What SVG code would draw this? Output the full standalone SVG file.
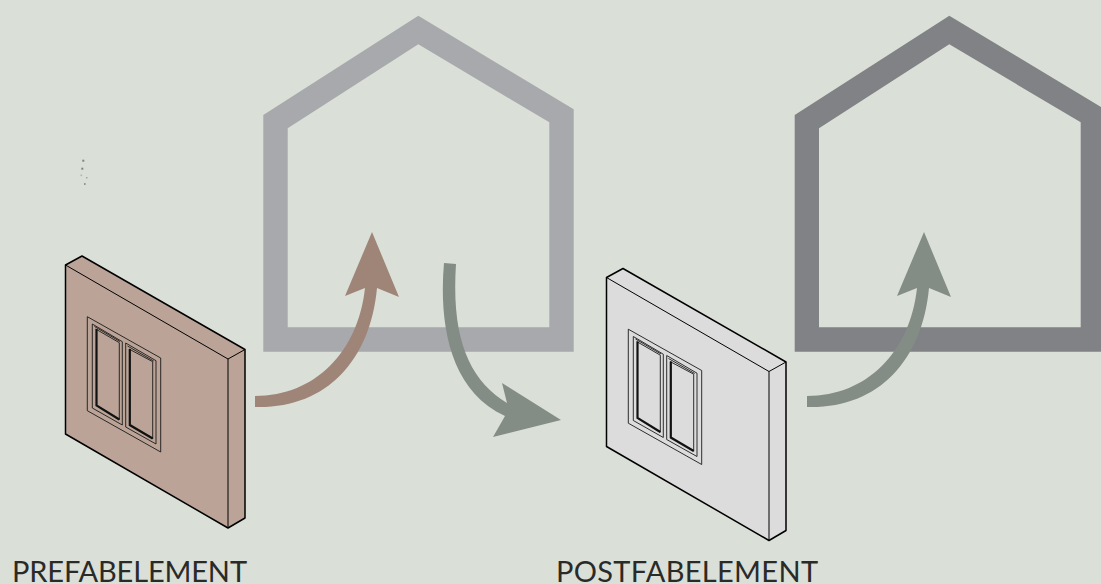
<svg xmlns="http://www.w3.org/2000/svg" width="1101" height="584" viewBox="0 0 1101 584">
<style>
.house{fill-rule:evenodd}
.fr{fill:none;stroke:#1a1a1a;stroke-width:.9}
.e{fill:none;stroke:#000;stroke-width:1.5;stroke-linejoin:round}
.t{fill:none;stroke:#000;stroke-width:1}
.lbl{font-family:"Lato","Open Sans",sans-serif;font-size:29px;fill:#2a2a28}
.dot{fill:#7f847f}
.wall-brown{fill:#bba497}
.wall-grey{fill:#dcdcdc}
.arrow-green{fill:#848d85}
</style>
<defs>
<g id="win">
<path class="fr" d="M87.300 316.700L160.700 358V452L87.300 410.700Z"/>
<path class="fr" d="M92.300 324L122.300 341.700V425L92.300 408Z"/>
<path class="fr" d="M125.700 343L156 360.700V444L125.700 427Z"/>
<path class="fr" d="M94.500 326.500L120 341.500M119.300 342.700V420M127.500 346L153.700 361M152.700 361.700V439"/>
<path class="fr" d="M95.700 329L119.300 342.700M129 349L152.700 361.700"/>
<path fill="none" stroke="#111" stroke-width="2.200" d="M96.500 329V405.500L119.300 419.500M129.800 349V425L152.700 438.500"/>
</g>
<g id="wall-lines">
<path class="e" d="M65.500 265L82 256L245 349.500V518L228 528L65.500 434Z"/>
<path class="t" d="M65.500 265L228 359L245 349.500M228 359V528"/>
<use href="#win"/>
</g>
<path id="wall-shape" d="M65.500 265L82 256L245 349.500V518L228 528L65.500 434Z"/>
<path id="curve-up" d="M255 396C315 396 358 352 365 288L345 296L372 232L399 297L377 288C370 362 325 409 255 407Z"/>
</defs>
<rect width="1101" height="584" fill="#dadfd7"/>
<path id="house-1" class="house" fill="#a7a9ac" d="M263.300 351.700V115L418.300 15.700L573.700 109.300V351.700ZM287.700 327.300H549.300V122.300L418.300 44.300L287.700 128.300Z"/>
<path id="house-2" class="house" fill="#808285" d="M794.700 351.700V115L949.300 15.700L1105 109.300V351.700ZM819 327.300H1080.700V122.300L949.300 44.300L819 128.300Z"/>
<g id="specks">
<rect class="dot" x="82.300" y="159.700" width="2" height="2"/>
<rect class="dot" x="81.300" y="167.700" width="2" height="2"/>
<rect class="dot" x="80.500" y="174.500" width="1.600" height="1.600" opacity=".45"/>
<rect class="dot" x="86" y="177" width="1.500" height="1.500" opacity=".6"/>
<rect class="dot" x="84" y="183.200" width="1.600" height="1.600"/>
</g>
<g id="prefab-element">
<use href="#wall-shape" class="wall-brown"/>
<use href="#wall-lines"/>
</g>
<g id="postfab-element" transform="translate(541 12.500)">
<use href="#wall-shape" class="wall-grey"/>
<use href="#wall-lines"/>
</g>
<g id="connectors">
<use href="#curve-up" fill="#9e8577"/>
<path class="arrow-green" d="M444 263C439 320 448 390 505 416L493 437L561 420L502 383L507 403C470 380 451 340 456 264Z"/>
<use href="#curve-up" class="arrow-green" transform="translate(552 0)"/>
</g>
<text class="lbl" x="12" y="582" textLength="235">PREFABELEMENT</text>
<text class="lbl" x="556" y="582" textLength="262">POSTFABELEMENT</text>
</svg>
